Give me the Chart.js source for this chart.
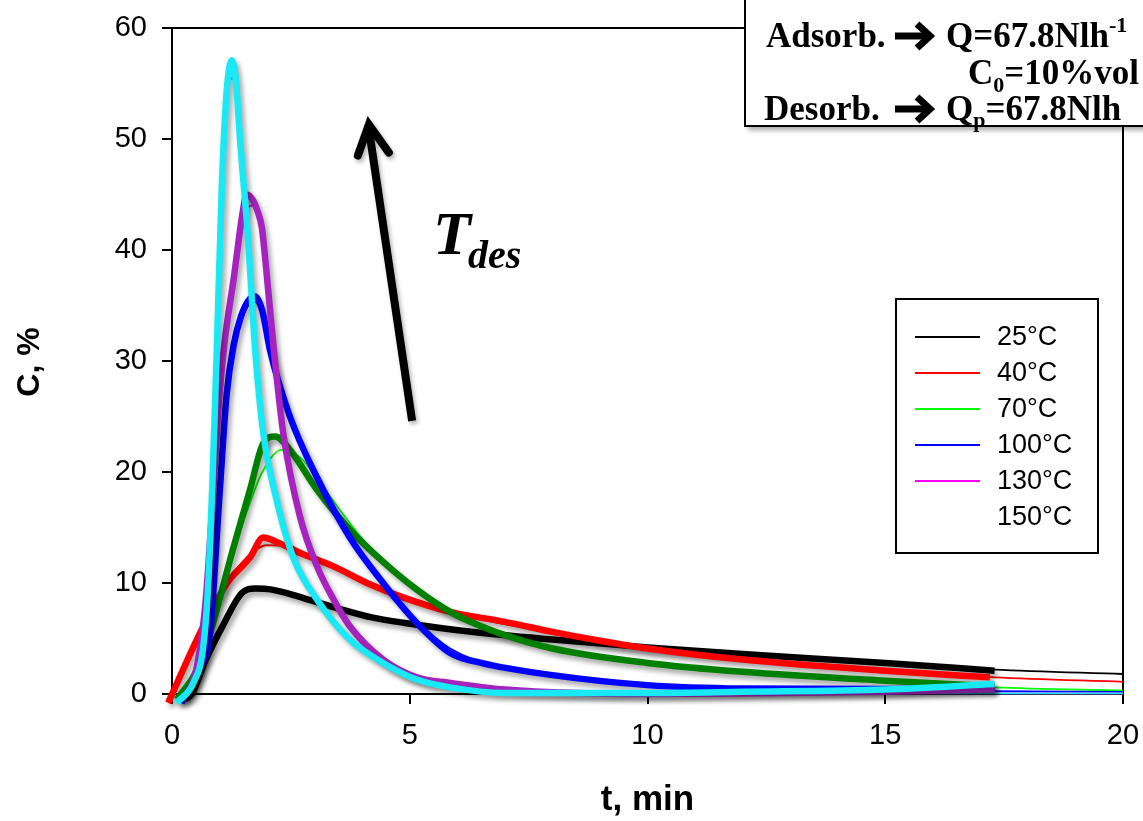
<!DOCTYPE html>
<html>
<head>
<meta charset="utf-8">
<script src="https://cdn.jsdelivr.net/npm/chart.js@4.4.1/dist/chart.umd.min.js"></script>
<style>
  html, body { margin: 0; padding: 0; background: #fff; }
  #wrap { width: 1143px; height: 821px; position: relative; }
</style>
</head>
<body>
<div id="wrap"><canvas id="c" width="1143" height="821"></canvas></div>
<script>
// Desorption curves: outlet concentration C (%) vs time t (min)
// Temperature labels
const temps = ['25°C', '40°C', '70°C', '100°C', '130°C', '150°C'];

// Measured curves (thick lines)
const t25 = [0.27, 0.42, 0.7, 1.05, 1.47, 1.75, 2.1, 2.8, 3.5, 4.2, 4.9, 6.3, 8, 10, 12, 15, 17.3];
const c25 = [-0.5, 0, 3, 6, 9.1, 9.5, 9.4, 8.6, 7.7, 6.9, 6.4, 5.6, 4.9, 4.2, 3.6, 2.8, 2.1];

const t40 = [-0.08, 0.59, 1.16, 1.64, 1.92, 2.2, 2.7, 3.4, 4.1, 4.8, 5.85, 7, 8, 9, 10, 12, 15, 17.2];
const c40 = [-0.8, 5.5, 10, 12.3, 14.1, 13.7, 12.7, 11.5, 10, 8.8, 7.4, 6.5, 5.6, 4.8, 4.1, 3.1, 2.1, 1.5];

const t70 = [0.1, 0.5, 0.8, 1.28, 1.64, 1.92, 2.17, 2.48, 3.05, 3.74, 4.44, 5.15, 5.85, 6.5, 7, 8, 10, 12, 15, 17.3];
const c70 = [-0.5, 2, 5.5, 13, 18.4, 22.6, 23.2, 22, 18.4, 14.8, 11.9, 9.4, 7.4, 6.1, 5.3, 4.1, 2.8, 2.0, 1.2, 0.7];

const t100 = [0.2, 0.59, 0.8, 1.0, 1.15, 1.3, 1.45, 1.6, 1.75, 1.9, 2.06, 2.48, 3.05, 3.74, 4.44, 5.15, 5.85, 6.5, 8, 10, 12, 15, 17.3];
const c100 = [-0.8, 2.4, 5.5, 18, 27, 31.5, 34, 35.4, 35.8, 34.5, 31, 25, 19.5, 14.1, 10, 6.4, 3.7, 2.8, 1.7, 0.8, 0.5, 0.45, 0.5];

const t130 = [0.23, 0.5, 0.7, 0.85, 1.0, 1.1, 1.3, 1.49, 1.57, 1.7, 1.8, 1.89, 1.99, 2.13, 2.34, 2.69, 3.05, 3.4, 3.74, 4.44, 5.15, 5.85, 7, 10, 12, 15, 17.3];
const c130 = [-0.5, 2, 8, 17, 27, 31.5, 37.5, 43.5, 45, 44.5, 43.5, 42, 37.9, 31.5, 23.5, 16, 11.5, 8.5, 6.1, 3.1, 1.5, 1.0, 0.4, 0, 0.05, 0.2, 0.45];

const t150 = [0.1, 0.45, 0.65, 0.75, 0.85, 0.95, 1.05, 1.15, 1.26, 1.35, 1.43, 1.6, 1.75, 1.92, 2.2, 2.55, 3.05, 3.74, 4.44, 5.15, 5.85, 7, 10, 12, 15, 17.3];
const c150 = [-0.8, 1, 4, 9, 19, 32, 46, 54.3, 57.1, 55, 50, 41, 31, 23.5, 17.5, 12.3, 8.5, 4.9, 2.8, 1.3, 0.6, 0.1, 0.1, 0.2, 0.4, 0.9];

// Model curves (thin lines)
const m25t = [0.3, 0.5, 0.8, 1.1, 1.5, 1.8, 2.2, 3, 4, 5, 6.5, 8, 10, 12, 15, 17.3, 20];
const m25c = [-0.3, 0.5, 3.8, 6.6, 9, 9.5, 9.3, 8.3, 7.1, 6.3, 5.5, 4.9, 4.2, 3.6, 2.8, 2.2, 1.8];

const m40t = [-0.1, 0.5, 1.0, 1.5, 2.0, 2.4, 3, 4, 5, 6, 7, 8, 9, 10, 12, 15, 17.3, 20];
const m40c = [-0.5, 4.8, 9, 12, 13.4, 13.3, 12.3, 10.2, 8.5, 7.2, 6.3, 5.5, 4.8, 4.1, 3.1, 2.1, 1.5, 1.1];

const m70t = [0.1, 0.5, 0.8, 1.1, 1.5, 1.9, 2.3, 2.7, 3.2, 4, 5, 6, 7, 8, 10, 12, 15, 17.3, 20];
const m70c = [-0.3, 2.2, 5.8, 10, 15.5, 20, 22, 21.3, 18.5, 14, 9.8, 7.0, 5.3, 4.1, 2.8, 2.0, 1.1, 0.6, 0.3];

const m100t = [0.2, 0.6, 0.8, 1.0, 1.15, 1.3, 1.45, 1.6, 1.75, 1.9, 2.1, 2.5, 3.05, 3.74, 4.44, 5.15, 5.85, 7, 8, 10, 12, 15, 17.3, 20];
const m100c = [-0.6, 2.4, 6, 18, 26.5, 31, 33.5, 35, 35.3, 34.2, 30.5, 24.8, 19.4, 14, 10, 6.6, 4.1, 2.3, 1.6, 0.8, 0.5, 0.3, 0.25, 0.2];

const m130t = [0.25, 0.5, 0.7, 0.85, 1.0, 1.1, 1.3, 1.5, 1.65, 1.8, 1.9, 2.0, 2.15, 2.35, 2.7, 3.05, 3.75, 4.45, 5.15, 6, 7, 10, 15, 20];
const m130c = [-0.3, 2, 8, 17, 27, 31.5, 37.5, 42.5, 44, 43.5, 42, 38.5, 32, 24, 16, 11.5, 6.1, 3.1, 1.5, 0.8, 0.4, 0.05, 0.05, 0.05];

const m150t = [0.1, 0.45, 0.65, 0.75, 0.85, 0.95, 1.05, 1.15, 1.27, 1.4, 1.6, 1.75, 1.92, 2.2, 2.55, 3.05, 3.75, 4.45, 5.15, 6, 7, 10, 15, 20];
const m150c = [-0.5, 1.2, 4.2, 9, 19, 31.5, 45, 53, 55.5, 51, 40.5, 31, 23.5, 17.3, 12.2, 8.3, 4.7, 2.6, 1.2, 0.5, 0.15, 0.05, 0.05, 0.05];

// Axis ticks
const xTicks = [0, 5, 10, 15, 20];
const yTicks = [0, 10, 20, 30, 40, 50, 60];

const expColors = ['#000000', '#ff0000', '#008000', '#0000ff', '#a623bf', '#19e8f5'];
const modelColors = ['#000000', '#ff0000', '#00ff00', '#0000ff', '#ff00ff', '#1fe0f5'];

const expT = [t25, t40, t70, t100, t130, t150];
const expC = [c25, c40, c70, c100, c130, c150];
const modT = [m25t, m40t, m70t, m100t, m130t, m150t];
const modC = [m25c, m40c, m70c, m100c, m130c, m150c];

const toPts = (ts, cs) => ts.map((t, i) => ({ x: t, y: cs[i] }));

const datasets = [];
temps.forEach((lbl, i) => {
  datasets.push({
    label: lbl + ' model',
    data: toPts(modT[i], modC[i]),
    borderColor: modelColors[i],
    borderWidth: 1.8,
    pointRadius: 0,
    cubicInterpolationMode: 'monotone',
    clip: false,
    order: 20 - i
  });
});
temps.forEach((lbl, i) => {
  datasets.push({
    label: lbl,
    data: toPts(expT[i], expC[i]),
    borderColor: expColors[i],
    borderWidth: 6.5,
    pointRadius: 0,
    cubicInterpolationMode: 'monotone',
    borderCapStyle: 'butt',
    clip: false,
    shadow: true,
    order: 10 - i
  });
});

// Drop shadow under the thick measured lines
const shadowPlugin = {
  id: 'lineShadow',
  beforeDatasetDraw(chart, args) {
    const ds = chart.data.datasets[args.index];
    if (!ds.shadow) return;
    const ctx = chart.ctx;
    ctx.save();
    ctx.shadowColor = 'rgba(0,0,0,0.35)';
    ctx.shadowBlur = 5;
    ctx.shadowOffsetX = 3;
    ctx.shadowOffsetY = 4;
  },
  afterDatasetDraw(chart, args) {
    const ds = chart.data.datasets[args.index];
    if (!ds.shadow) return;
    chart.ctx.restore();
  }
};

// Heavy right-pointing arrow glyph used in the conditions box
function heavyArrow(ctx, x, yc) {
  ctx.save();
  ctx.strokeStyle = '#000';
  ctx.lineWidth = 7;
  ctx.lineCap = 'butt';
  ctx.lineJoin = 'miter';
  ctx.beginPath();
  ctx.moveTo(x, yc);
  ctx.lineTo(x + 30, yc);
  ctx.stroke();
  ctx.beginPath();
  ctx.moveTo(x + 22, yc - 12);
  ctx.lineTo(x + 35, yc);
  ctx.lineTo(x + 22, yc + 12);
  ctx.stroke();
  ctx.restore();
}

// Plot frame, axis titles, arrow annotation, legend and condition box
const decorPlugin = {
  id: 'decor',
  beforeDatasetsDraw(chart) {
    const { ctx, chartArea: a } = chart;
    ctx.save();
    ctx.strokeStyle = '#000';
    ctx.lineWidth = 2;
    ctx.beginPath();
    ctx.moveTo(a.left, a.top);
    ctx.lineTo(a.right, a.top);
    ctx.lineTo(a.right, a.bottom);
    ctx.stroke();
    ctx.restore();
  },
  afterDraw(chart) {
    const { ctx, chartArea: a, scales } = chart;
    const X = v => scales.x.getPixelForValue(v);
    const Y = v => scales.y.getPixelForValue(v);

    // axis titles
    ctx.save();
    ctx.fillStyle = '#000';
    ctx.textAlign = 'center';
    ctx.textBaseline = 'middle';
    ctx.font = 'bold 35px "Liberation Sans", Arial, sans-serif';
    ctx.fillText('t, min', (a.left + a.right) / 2, 800);
    ctx.font = 'bold 32px "Liberation Sans", Arial, sans-serif';
    ctx.translate(30, 362);
    ctx.rotate(-Math.PI / 2);
    ctx.fillText('C, %', 0, 0);
    ctx.restore();

    // arrow showing increasing desorption temperature
    ctx.save();
    ctx.shadowColor = 'rgba(0,0,0,0.3)';
    ctx.shadowBlur = 4;
    ctx.shadowOffsetX = 2;
    ctx.shadowOffsetY = 3;
    ctx.strokeStyle = '#000';
    ctx.lineWidth = 8;
    ctx.lineCap = 'butt';
    ctx.lineJoin = 'miter';
    const x0 = X(5.05), y0 = Y(24.6), x1 = X(4.14), y1 = Y(51.3);
    ctx.beginPath();
    ctx.moveTo(x0, y0);
    ctx.lineTo(x1, y1 + 4);
    ctx.stroke();
    ctx.lineCap = 'round';
    ctx.beginPath();
    ctx.moveTo(x1 - 11, y1 + 31);
    ctx.lineTo(x1, y1);
    ctx.lineTo(x1 + 20, y1 + 28);
    ctx.stroke();
    ctx.restore();

    ctx.save();
    ctx.fillStyle = '#000';
    ctx.textBaseline = 'alphabetic';
    ctx.font = 'italic bold 62px "Liberation Serif", "Times New Roman", serif';
    ctx.fillText('T', 433, 254);
    ctx.font = 'italic bold 40px "Liberation Serif", "Times New Roman", serif';
    ctx.fillText('des', 468, 268);
    ctx.restore();

    // legend
    const lx = 896, ly = 299, lw = 202, lh = 254;
    ctx.save();
    ctx.fillStyle = '#fff';
    ctx.fillRect(lx, ly, lw, lh);
    ctx.strokeStyle = '#000';
    ctx.lineWidth = 2;
    ctx.strokeRect(lx, ly, lw, lh);
    ctx.font = '27px "Liberation Sans", Arial, sans-serif';
    ctx.textBaseline = 'middle';
    ctx.fillStyle = '#000';
    temps.forEach((lbl, i) => {
      const yy = 337 + i * 36;
      if (i < 5) {
        ctx.strokeStyle = modelColors[i];
        ctx.lineWidth = 2;
        ctx.beginPath();
        ctx.moveTo(915, yy);
        ctx.lineTo(980, yy);
        ctx.stroke();
      }
      ctx.fillText(lbl, 997, yy + 1);
    });
    ctx.restore();

    // operating-conditions box
    ctx.save();
    ctx.shadowColor = 'rgba(0,0,0,0.35)';
    ctx.shadowBlur = 5;
    ctx.shadowOffsetX = 3;
    ctx.shadowOffsetY = 4;
    ctx.fillStyle = '#fff';
    ctx.fillRect(745, -20, 420, 146);
    ctx.restore();
    ctx.save();
    ctx.strokeStyle = '#000';
    ctx.lineWidth = 2;
    ctx.strokeRect(745, -20, 420, 146);
    ctx.fillStyle = '#000';
    ctx.textBaseline = 'alphabetic';
    const serif = '"Liberation Serif", "Times New Roman", serif';
    ctx.font = 'bold 35px ' + serif;
    ctx.fillText('Adsorb.', 766, 47);
    ctx.fillText('Desorb.', 764, 120);
    heavyArrow(ctx, 895, 36);
    heavyArrow(ctx, 895, 109);
    ctx.font = 'bold 35px ' + serif;
    ctx.fillText('Q=67.8Nlh', 946, 47);
    let w = ctx.measureText('Q=67.8Nlh').width;
    ctx.font = 'bold 22px ' + serif;
    ctx.fillText('-1', 946 + w, 32);
    ctx.font = 'bold 35px ' + serif;
    ctx.fillText('C', 968, 84);
    w = ctx.measureText('C').width;
    ctx.font = 'bold 22px ' + serif;
    ctx.fillText('0', 968 + w, 92);
    const w0 = ctx.measureText('0').width;
    ctx.font = 'bold 35px ' + serif;
    ctx.fillText('=10%vol', 968 + w + w0, 84);
    ctx.fillText('Q', 946, 120);
    w = ctx.measureText('Q').width;
    ctx.font = 'bold 22px ' + serif;
    ctx.fillText('p', 946 + w, 127);
    const wp = ctx.measureText('p').width;
    ctx.font = 'bold 35px ' + serif;
    ctx.fillText('=67.8Nlh', 946 + w + wp, 120);
    ctx.restore();
  }
};

const tickFont = { family: '"Liberation Sans", Arial, sans-serif', size: 29 };

new Chart(document.getElementById('c'), {
  type: 'line',
  data: { datasets },
  options: {
    responsive: false,
    animation: false,
    events: [],
    layout: { padding: { top: 28, right: 20, left: 0, bottom: 0 } },
    plugins: { legend: { display: false }, tooltip: { enabled: false } },
    scales: {
      x: {
        type: 'linear',
        min: 0, max: 20,
        afterFit: s => { s.height = 127; s.paddingLeft = 0; s.paddingRight = 0; },
        afterBuildTicks: s => { s.ticks = xTicks.map(v => ({ value: v })); },
        grid: { drawOnChartArea: false, drawTicks: true, tickLength: 10, color: '#000', lineWidth: 2 },
        border: { display: true, color: '#000', width: 2 },
        ticks: { color: '#000', padding: 15, maxRotation: 0, font: tickFont }
      },
      y: {
        type: 'linear',
        min: 0, max: 60,
        afterFit: s => { s.width = 172; s.paddingTop = 0; s.paddingBottom = 0; },
        afterBuildTicks: s => { s.ticks = yTicks.map(v => ({ value: v })); },
        grid: { drawOnChartArea: false, drawTicks: true, tickLength: 10, color: '#000', lineWidth: 2 },
        border: { display: true, color: '#000', width: 2 },
        ticks: { color: '#000', padding: 15, font: tickFont }
      }
    }
  },
  plugins: [shadowPlugin, decorPlugin]
});
</script>
</body>
</html>
